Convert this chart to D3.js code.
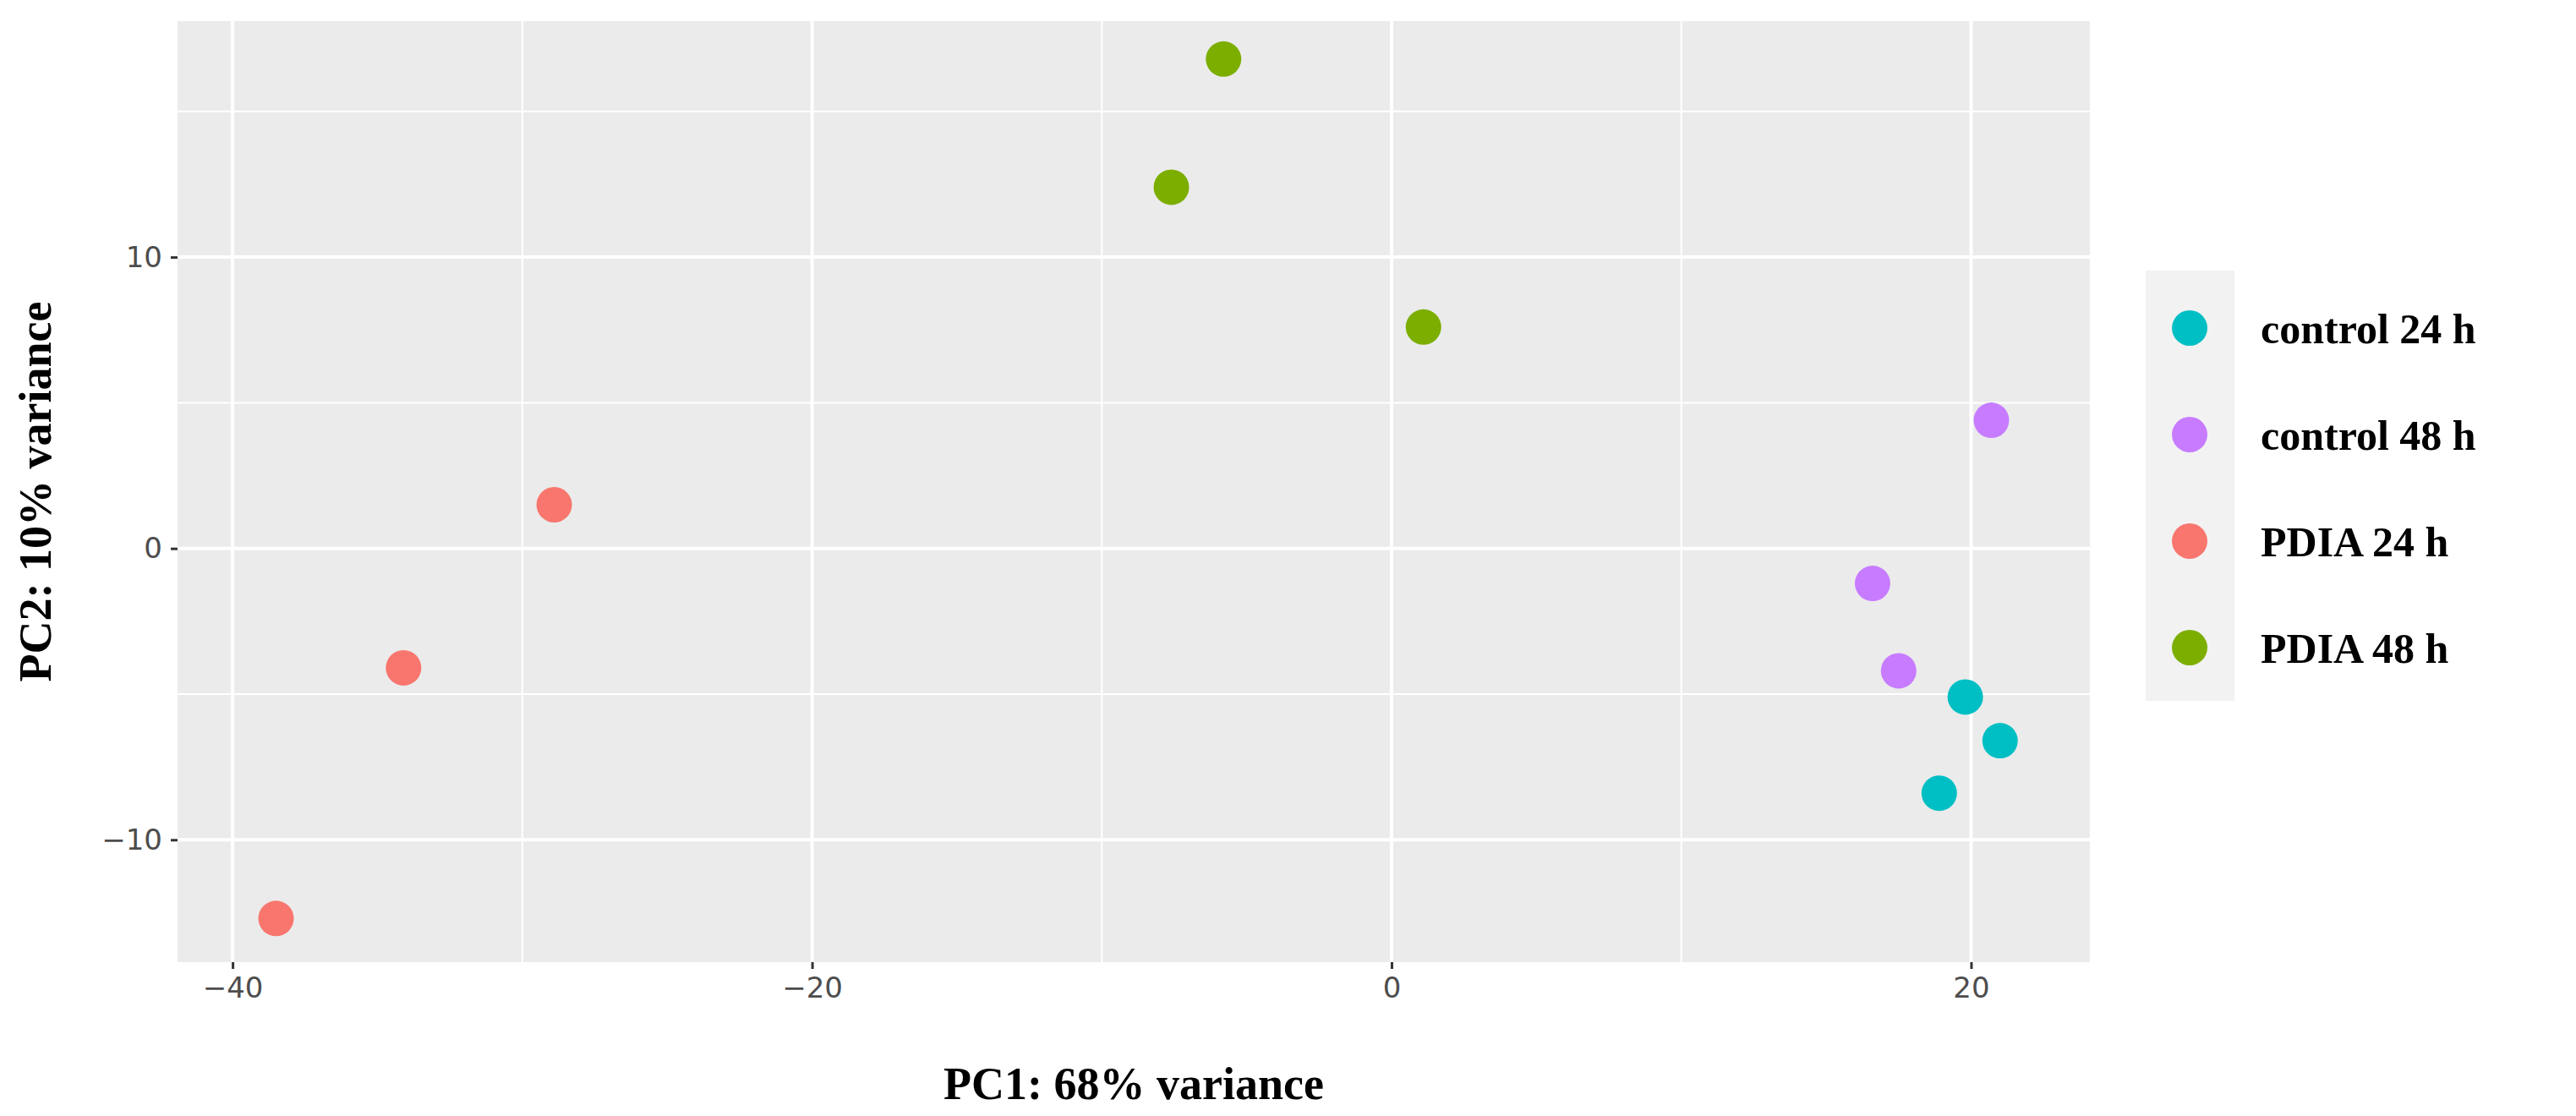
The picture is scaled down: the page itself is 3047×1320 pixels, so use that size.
<html>
<head>
<meta charset="utf-8">
<script src="https://d3js.org/d3.v7.min.js"></script>
<style>body{margin:0;background:#fff}</style>
</head>
<body>
<svg id="chart" width="3047" height="1320"></svg>
<script>
const groups = ["control 24 h", "control 48 h", "PDIA 24 h", "PDIA 48 h"];
const colors = ["#00BFC4", "#C77CFF", "#F8766D", "#7CAE00"];
const pc1 = [19.8, 21.0, 18.9, 20.7, 16.6, 17.5, -28.9, -34.1, -38.5, -5.8, -7.6, 1.1];
const pc2 = [-5.1, -6.6, -8.4, 4.4, -1.2, -4.2, 1.5, -4.1, -12.7, 16.8, 12.4, 7.6];
const group = [0, 0, 0, 1, 1, 1, 2, 2, 2, 3, 3, 3];
const xTicks = [-40, -20, 0, 20];
const yTicks = [-10, 0, 10];

const svg = d3.select("#chart");
const pLeft = 210, pRight = 2472, pTop = 25, pBottom = 1138;
const x = d3.scaleLinear().domain([-41.9, 24.1]).range([pLeft, pRight]);
const y = d3.scaleLinear().domain([-14.2, 18.1]).range([pBottom, pTop]);

svg.append("rect").attr("x", pLeft).attr("y", pTop)
  .attr("width", pRight - pLeft).attr("height", pBottom - pTop).attr("fill", "#EBEBEB");

const minorX = d3.range(-30, 24, 20), minorY = [-5, 5, 15];
svg.selectAll(".mx").data(minorX).enter().append("line")
  .attr("x1", d => x(d)).attr("x2", d => x(d)).attr("y1", pTop).attr("y2", pBottom)
  .attr("stroke", "#fff").attr("stroke-width", 2);
svg.selectAll(".my").data(minorY).enter().append("line")
  .attr("y1", d => y(d)).attr("y2", d => y(d)).attr("x1", pLeft).attr("x2", pRight)
  .attr("stroke", "#fff").attr("stroke-width", 2);
svg.selectAll(".gx").data(xTicks).enter().append("line")
  .attr("x1", d => x(d)).attr("x2", d => x(d)).attr("y1", pTop).attr("y2", pBottom)
  .attr("stroke", "#fff").attr("stroke-width", 4);
svg.selectAll(".gy").data(yTicks).enter().append("line")
  .attr("y1", d => y(d)).attr("y2", d => y(d)).attr("x1", pLeft).attr("x2", pRight)
  .attr("stroke", "#fff").attr("stroke-width", 4);

const xa = svg.append("g").attr("transform", `translate(0,${pBottom})`)
  .call(d3.axisBottom(x).tickValues(xTicks).tickSize(8).tickPadding(10).tickFormat(d3.format("d")));
const ya = svg.append("g").attr("transform", `translate(${pLeft},0)`)
  .call(d3.axisLeft(y).tickValues(yTicks).tickSize(8).tickPadding(10).tickFormat(d3.format("d")));
[xa, ya].forEach(a => {
  a.select(".domain").remove();
  a.selectAll("line").attr("stroke", "#333").attr("stroke-width", 3);
  a.selectAll("text").attr("font-family", "DejaVu Sans").attr("font-size", 34).attr("fill", "#4D4D4D");
});

svg.selectAll(".pt").data(pc1).enter().append("circle")
  .attr("cx", d => x(d)).attr("cy", (d, i) => y(pc2[i])).attr("r", 21)
  .attr("fill", (d, i) => colors[group[i]]);

svg.append("text").attr("x", (pLeft + pRight) / 2).attr("y", 1300).attr("text-anchor", "middle")
  .attr("font-family", "Liberation Serif").attr("font-weight", "bold").attr("font-size", 54)
  .text("PC1: 68% variance");
svg.append("text").attr("transform", `translate(60,${(pTop + pBottom) / 2}) rotate(-90)`)
  .attr("text-anchor", "middle")
  .attr("font-family", "Liberation Serif").attr("font-weight", "bold").attr("font-size", 54)
  .text("PC2: 10% variance");

svg.append("rect").attr("x", 2538).attr("y", 320).attr("width", 105).attr("height", 509).attr("fill", "#F2F2F2");
const lg = svg.selectAll(".lg").data(groups).enter().append("g")
  .attr("transform", (d, i) => `translate(2590,${388 + i * 126})`);
lg.append("circle").attr("r", 21).attr("fill", (d, i) => colors[i]);
lg.append("text").attr("x", 84).attr("dy", "0.35em")
  .attr("font-family", "Liberation Serif").attr("font-weight", "bold").attr("font-size", 50)
  .text(d => d);
</script>
</body>
</html>
